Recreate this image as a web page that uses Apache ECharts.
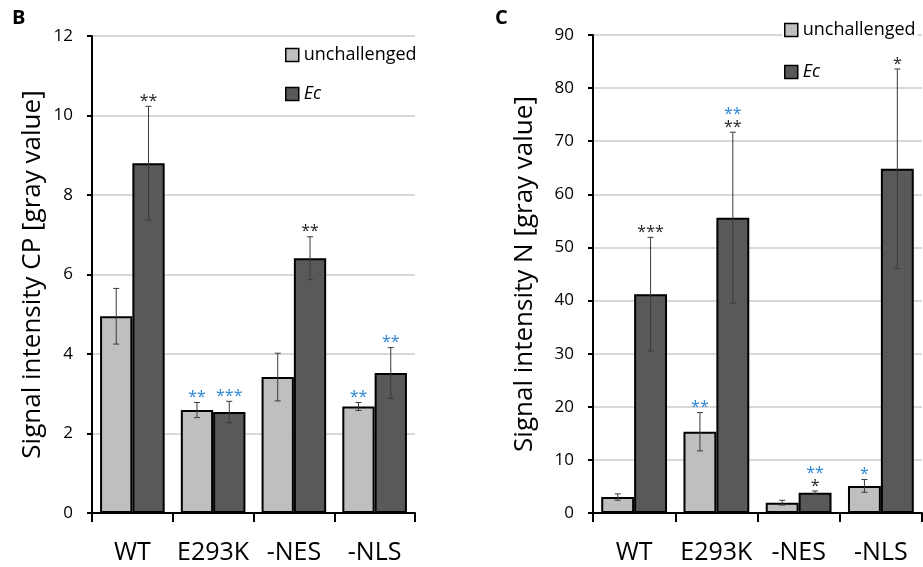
<!DOCTYPE html>
<html>
<head>
<meta charset="utf-8">
<script src="https://cdn.jsdelivr.net/npm/echarts@6/dist/echarts.min.js"></script>
<style>
html,body{margin:0;padding:0;background:#fff;}
#chart{width:923px;height:567px;}
</style>
</head>
<body>
<div id="chart"></div>
<script>
// ---- Data ----
const categories = ['WT', 'E293K', '-NES', '-NLS'];
const seriesNames = ['unchallenged', 'Ec'];

// Panel B: CP signal intensity
const cpUnch    = [4.95, 2.59, 3.42, 2.68];
const cpUnchErr = [0.70, 0.19, 0.60, 0.10];
const cpEc      = [8.80, 2.54, 6.41, 3.52];
const cpEcErr   = [1.43, 0.27, 0.54, 0.64];
const cpUnchStarsBlack = ['', '', '', ''];
const cpUnchStarsBlue  = ['', '**', '', '**'];
const cpEcStarsBlack   = ['**', '', '**', ''];
const cpEcStarsBlue    = ['', '***', '', '**'];

// Panel C: N signal intensity
const nUnch    = [3.0, 15.3, 1.95, 5.1];
const nUnchErr = [0.6, 3.6, 0.45, 1.2];
const nEc      = [41.2, 55.6, 3.8, 64.8];
const nEcErr   = [10.7, 16.1, 0.35, 18.8];
const nUnchStarsBlack = ['', '', '', ''];
const nUnchStarsBlue  = ['', '**', '', '*'];
const nEcStarsBlack   = ['***', '**', '*', '*'];
const nEcStarsBlue    = ['', '**', '**', ''];

// Axis ticks
const cpAxis = {min: 0, max: 12, interval: 2};
const nAxis  = {min: 0, max: 90, interval: 10};

// ---- Styles ----
const FONT = 'Open Sans';
const colUnch = '#bfbfbf';
const colEc = '#595959';
const blue = '#2a85d3';

function errSeries(gridIdx, vals, errs, sign, black, blue_) {
  return {
    type: 'custom',
    xAxisIndex: gridIdx, yAxisIndex: gridIdx,
    silent: true,
    z: 10,
    data: vals.map((v, i) => [i, v, errs[i]]),
    encode: {x: 0, y: 1},
    renderItem: function (params, api) {
      const i = api.value(0), v = api.value(1), e = api.value(2);
      const bw = api.size([1, 0])[0];
      const x = api.coord([i, v])[0] + sign * bw * 0.2;
      const top = api.coord([i, v + e])[1];
      const bot = api.coord([i, v - e])[1];
      const cap = 3;
      const ls = {stroke: '#3a3a3a', lineWidth: 1};
      const children = [
        {type: 'line', shape: {x1: x, y1: top, x2: x, y2: bot}, style: ls},
        {type: 'line', shape: {x1: x - cap, y1: top, x2: x + cap, y2: top}, style: ls},
        {type: 'line', shape: {x1: x - cap, y1: bot, x2: x + cap, y2: bot}, style: ls}
      ];
      let y = top - 5;
      if (black[i]) {
        children.push({type: 'text', style: {text: black[i], x: x, y: y, align: 'center', verticalAlign: 'middle',
          fontSize: 16, fontFamily: FONT, fill: '#222'}});
        y -= 13;
      }
      if (blue_[i]) {
        children.push({type: 'text', style: {text: blue_[i], x: x, y: y, align: 'center', verticalAlign: 'middle',
          fontSize: 16, fontFamily: FONT, fill: blue}});
      }
      return {type: 'group', children: children};
    }
  };
}

function barSeries(gridIdx, name, vals, color) {
  return {
    type: 'bar', name: name,
    xAxisIndex: gridIdx, yAxisIndex: gridIdx,
    data: vals,
    barGap: '0%', barCategoryGap: '20%',
    itemStyle: {color: color, borderColor: '#000', borderWidth: 2},
    silent: true
  };
}

function xAxisDef(gridIdx) {
  return {
    type: 'category', gridIndex: gridIdx, data: categories,
    axisLine: {lineStyle: {color: '#000', width: 2}},
    axisTick: {show: true, length: 9, interval: 0, lineStyle: {color: '#000', width: 2}, alignWithLabel: false},
    axisLabel: {fontFamily: FONT, fontSize: 25, color: '#000', margin: 27, interval: 0}
  };
}

function yAxisDef(gridIdx, ax, name, gap) {
  return {
    type: 'value', gridIndex: gridIdx, min: ax.min, max: ax.max, interval: ax.interval,
    name: name, nameLocation: 'middle', nameGap: gap,
    nameTextStyle: {fontFamily: FONT, fontSize: 26, color: '#000'},
    axisLine: {show: true, lineStyle: {color: '#000', width: 2}},
    axisTick: {show: true, length: 5, lineStyle: {color: '#000', width: 2}},
    axisLabel: {fontFamily: FONT, fontSize: 17, color: '#000', margin: 19},
    splitLine: {show: true, lineStyle: {color: '#d9d9d9', width: 2}}
  };
}

const legendFormatter = n => n === 'Ec' ? '{i|Ec}' : n;
const legendText = {fontFamily: FONT, fontSize: 18, color: '#000',
  rich: {i: {fontFamily: FONT, fontSize: 18, fontStyle: 'italic', color: '#000'}}};

const chart = echarts.init(document.getElementById('chart'), null, {renderer: 'canvas'});
chart.setOption({
  animation: false,
  backgroundColor: '#fff',
  textStyle: {fontFamily: FONT},
  grid: [
    {left: 92, right: 508, top: 36, bottom: 54},
    {left: 593, right: 1, top: 35, bottom: 54}
  ],
  xAxis: [xAxisDef(0), xAxisDef(1)],
  yAxis: [
    yAxisDef(0, cpAxis, 'Signal intensity CP [gray value]', 46),
    yAxisDef(1, nAxis, 'Signal intensity N [gray value]', 55)
  ],
  legend: [
    {data: seriesNames, orient: 'vertical', left: 285, top: 46, padding: 0, itemGap: 21,
      itemWidth: 13, itemHeight: 13, icon: 'rect', formatter: legendFormatter, textStyle: legendText,
      itemStyle: {borderColor: '#000', borderWidth: 1.5}, selectedMode: false},
    {data: seriesNames, orient: 'vertical', left: 782, top: 21, padding: [0, 2, 0, 2], itemGap: 24,
      itemWidth: 13, itemHeight: 13, icon: 'rect', formatter: legendFormatter, textStyle: legendText,
      backgroundColor: '#fff', itemStyle: {borderColor: '#000', borderWidth: 1.5}, selectedMode: false}
  ],
  graphic: [
    {type: 'text', left: 12, top: 8, style: {text: 'B', fontFamily: FONT, fontSize: 20, fontWeight: 'bold', fill: '#000'}},
    {type: 'text', left: 495, top: 8, style: {text: 'C', fontFamily: FONT, fontSize: 20, fontWeight: 'bold', fill: '#000'}}
  ],
  series: [
    barSeries(0, seriesNames[0], cpUnch, colUnch),
    barSeries(0, seriesNames[1], cpEc, colEc),
    barSeries(1, seriesNames[0], nUnch, colUnch),
    barSeries(1, seriesNames[1], nEc, colEc),
    errSeries(0, cpUnch, cpUnchErr, -1, cpUnchStarsBlack, cpUnchStarsBlue),
    errSeries(0, cpEc, cpEcErr, 1, cpEcStarsBlack, cpEcStarsBlue),
    errSeries(1, nUnch, nUnchErr, -1, nUnchStarsBlack, nUnchStarsBlue),
    errSeries(1, nEc, nEcErr, 1, nEcStarsBlack, nEcStarsBlue)
  ]
});
</script>
</body>
</html>
